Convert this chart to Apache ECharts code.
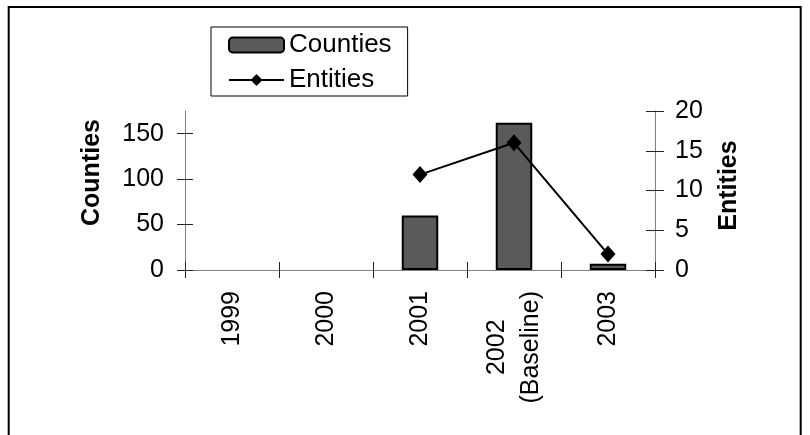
<!DOCTYPE html>
<html>
<head>
<meta charset="utf-8">
<script src="https://cdn.jsdelivr.net/npm/echarts@6/dist/echarts.min.js"></script>
<style>
  html, body { margin: 0; padding: 0; background: #fff; }
  #chart { width: 810px; height: 435px; }
</style>
</head>
<body>
<div id="chart"></div>
<script>
// Year categories along the bottom axis
const years = ['1999', '2000', '2001', '2002\n(Baseline)', '2003'];
// Number of counties per year (left axis, bars)
const counties = [null, null, 60, 162, 7];
// Number of entities per year (right axis, line)
const entities = [null, null, 12, 16, 2];
// Tick values for each value axis
const countyTicks = [0, 50, 100, 150];
const entityTicks = [0, 5, 10, 15, 20];

const FONT = '"Liberation Sans", Arial, sans-serif';
const AXIS_GRAY = '#808080';
const TICK = '#222';

const chart = echarts.init(document.getElementById('chart'), null, { renderer: 'canvas' });

function valueAxisLabel(margin) {
  return { show: true, margin: margin, color: '#000', fontSize: 25, fontFamily: FONT };
}

const option = {
  animation: false,
  backgroundColor: '#fff',
  grid: { left: 185, right: 155, top: 111, bottom: 165, containLabel: false },
  legend: {
    orient: 'vertical',
    left: 211,
    top: 27,
    padding: [3, 16, 1, 17],
    itemGap: 5,
    itemWidth: 55,
    itemHeight: 15,
    borderColor: '#000',
    borderWidth: 1,
    backgroundColor: '#fff',
    textStyle: { color: '#000', fontSize: 26, fontFamily: FONT, lineHeight: 30 },
    data: ['Counties', 'Entities']
  },
  xAxis: [
    {
      type: 'category',
      position: 'bottom',
      data: years,
      axisLine: { show: true, lineStyle: { color: AXIS_GRAY, width: 1 } },
      axisTick: { show: true, alignWithLabel: false, length: 8, lineStyle: { color: TICK, width: 1 } },
      axisLabel: {
        show: true,
        rotate: 90,
        margin: 21,
        interval: 0,
        color: '#000',
        fontFamily: FONT,
        fontSize: 25,
        formatter: v => v.split('\n').map(s => '{c|' + s + '}').join('\n'),
        rich: { c: { fontSize: 25, fontFamily: FONT, lineHeight: 34, align: 'center', color: '#000' } }
      },
      splitLine: { show: false }
    },
    {
      // second copy of the category axis: ticks pointing into the plot
      type: 'category',
      position: 'bottom',
      data: years,
      axisLine: { show: false },
      axisTick: { show: true, inside: true, length: 8, lineStyle: { color: TICK, width: 1 } },
      axisLabel: { show: false },
      splitLine: { show: false }
    }
  ],
  yAxis: [
    {
      type: 'value',
      position: 'left',
      min: 0, max: 175, interval: 25,
      name: 'Counties',
      nameLocation: 'middle',
      nameRotate: 90,
      nameGap: 80,
      nameTextStyle: { color: '#000', fontSize: 25, fontWeight: 'bold', fontFamily: FONT, padding: [0, 0, 0, 36] },
      axisLine: { show: true, lineStyle: { color: AXIS_GRAY, width: 1 } },
      axisTick: { show: true, length: 8, customValues: countyTicks, lineStyle: { color: TICK, width: 1 } },
      axisLabel: Object.assign(valueAxisLabel(21), { customValues: countyTicks }),
      splitLine: { show: false }
    },
    {
      type: 'value',
      position: 'right',
      min: 0, max: 20, interval: 5,
      name: 'Entities',
      nameLocation: 'middle',
      nameRotate: 90,
      nameGap: 62,
      nameTextStyle: { color: '#000', fontSize: 25, fontWeight: 'bold', fontFamily: FONT, padding: [0, 0, 0, 10] },
      axisLine: { show: true, lineStyle: { color: AXIS_GRAY, width: 1 } },
      axisTick: { show: true, length: 9, customValues: entityTicks, lineStyle: { color: TICK, width: 1 } },
      axisLabel: Object.assign(valueAxisLabel(20), { customValues: entityTicks }),
      splitLine: { show: false }
    },
    {
      // inward ticks on the left axis
      type: 'value',
      position: 'left',
      min: 0, max: 175, interval: 25,
      axisLine: { show: false },
      axisTick: { show: true, inside: true, length: 8, customValues: countyTicks, lineStyle: { color: TICK, width: 1 } },
      axisLabel: { show: false },
      splitLine: { show: false }
    },
    {
      // inward ticks on the right axis
      type: 'value',
      position: 'right',
      min: 0, max: 20, interval: 5,
      axisLine: { show: false },
      axisTick: { show: true, inside: true, length: 9, customValues: entityTicks, lineStyle: { color: TICK, width: 1 } },
      axisLabel: { show: false },
      splitLine: { show: false }
    }
  ],
  series: [
    {
      name: 'Counties',
      type: 'bar',
      xAxisIndex: 0,
      yAxisIndex: 0,
      data: counties,
      barWidth: 36.5,
      itemStyle: { color: '#5a5a5a', borderColor: '#000', borderWidth: 2 },
      z: 2
    },
    {
      name: 'Entities',
      type: 'line',
      xAxisIndex: 0,
      yAxisIndex: 1,
      data: entities,
      symbol: 'diamond',
      symbolSize: [15, 17],
      showAllSymbol: true,
      connectNulls: false,
      itemStyle: { color: '#000' },
      lineStyle: { color: '#000', width: 2 },
      z: 5
    }
  ],
  graphic: [
    {
      type: 'rect',
      shape: { x: 8.7, y: 7, width: 792, height: 500 },
      style: { fill: 'none', stroke: '#000', lineWidth: 2 },
      silent: true,
      z: 100
    }
  ]
};

chart.setOption(option);
</script>
</body>
</html>
